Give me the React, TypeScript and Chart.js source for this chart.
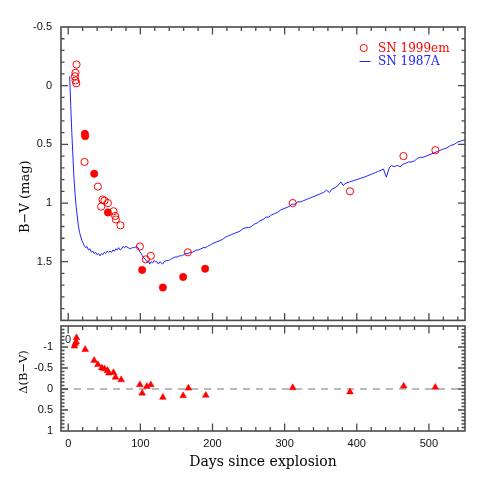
import React, { useEffect, useRef } from 'react';
import { Chart, registerables } from 'chart.js';
Chart.register(...registerables);

// ---------- data ----------
const X_MIN = -10;
const X_MAX = 550;
const xTickLabels = [0, 100, 200, 300, 400, 500];

const topYMin = -0.5;
const topYMax = 2;
const topYTickLabels = [-0.5, 0, 0.5, 1, 1.5];

const botYMin = -1.5;
const botYMax = 1;
const botYTickLabels = [-1, -0.5, 0, 0.5, 1];

// SN 1999em, open circles
const openDays = [11.5, 10.1, 9.3, 10.1, 11.1, 22.6, 41.1, 47.5, 50.3, 45.7, 55, 62.7, 65.1, 66.1, 72.4, 99.3, 107.6, 114.5, 165.8, 311.2, 390.6, 464.7, 509];
const openBV = [-0.18, -0.11, -0.08, -0.045, -0.02, 0.65, 0.86, 0.97, 0.98, 1.03, 1.0, 1.07, 1.11, 1.14, 1.19, 1.37, 1.48, 1.45, 1.42, 1.0, 0.9, 0.6, 0.55];

// SN 1999em, filled circles
const filledDays = [23.1, 23.5, 36, 55, 102.5, 131.2, 159.3, 189.8];
const filledBV = [0.41, 0.43, 0.75, 1.08, 1.57, 1.72, 1.63, 1.56];

// SN 1987A, line
const sn87Days = [
  2, 3.5, 5, 6.5, 8, 9.5, 11, 12.5, 14, 15.7,
  17.5, 19, 20.5, 22, 24, 26, 28, 30, 32, 34,
  36, 38, 40, 42, 44, 46, 48, 50, 52, 54,
  56, 58, 60, 62, 64, 66, 68, 70, 72, 74,
  76, 78, 80, 83, 86, 89, 92, 95, 97, 99,
  101, 103, 105, 107, 109, 111, 113, 115, 117, 119,
  121, 123, 125, 127, 129, 131, 133, 136, 139, 142,
  145, 148, 151, 154, 157, 160, 163, 166, 169, 172,
  175, 178, 181, 184, 187, 190, 193, 196, 199, 202,
  206, 210, 214, 218, 222, 226, 230, 234, 238, 242,
  246, 250, 254, 258, 262, 266, 270, 274, 278, 282,
  286, 290, 294, 298, 302, 306, 310, 314, 318, 322,
  326, 330, 334, 338, 342, 346, 350, 354, 358, 362,
  366, 370, 374, 378, 381, 385, 390, 395, 400, 405,
  410, 414, 418, 422, 426, 430, 434, 437, 441, 445,
  448, 452, 456, 460, 464, 468, 472, 476, 480, 484,
  488, 492, 496, 500, 504, 508, 512, 516, 520, 525,
  530, 535, 540, 545, 550,
];
const sn87BV = [
  -0.08, 0.17, 0.4, 0.6, 0.79, 0.92, 1.03, 1.11, 1.19, 1.25,
  1.29, 1.32, 1.34, 1.36, 1.38, 1.37, 1.4, 1.39, 1.42, 1.41,
  1.43, 1.42, 1.44, 1.43, 1.45, 1.43, 1.44, 1.42, 1.43, 1.41,
  1.42, 1.41, 1.42, 1.4, 1.41, 1.39, 1.4, 1.38, 1.4, 1.39,
  1.37, 1.38, 1.37, 1.38, 1.39, 1.38, 1.38, 1.37, 1.38, 1.41,
  1.43, 1.45, 1.47, 1.48, 1.5, 1.49, 1.52, 1.5, 1.51, 1.49,
  1.5, 1.5, 1.52, 1.5, 1.51, 1.52, 1.5, 1.49, 1.49, 1.48,
  1.47, 1.46, 1.46, 1.45, 1.45, 1.44, 1.43, 1.43, 1.42, 1.42,
  1.41, 1.4, 1.4, 1.39, 1.38, 1.38, 1.37, 1.36, 1.35, 1.34,
  1.33, 1.32, 1.31, 1.29, 1.28, 1.27, 1.26, 1.25, 1.24, 1.22,
  1.21, 1.21, 1.2, 1.18, 1.17, 1.15, 1.14, 1.12, 1.12, 1.1,
  1.09, 1.08, 1.06, 1.05, 1.04, 1.03, 1.01, 1.01, 0.99, 0.99,
  0.98, 0.97, 0.96, 0.95, 0.94, 0.93, 0.92, 0.91, 0.89, 0.91,
  0.88, 0.87, 0.85, 0.82, 0.85, 0.83, 0.82, 0.81, 0.8, 0.79,
  0.78, 0.77, 0.76, 0.75, 0.74, 0.73, 0.72, 0.71, 0.78, 0.7,
  0.68, 0.69, 0.68, 0.69, 0.67, 0.66, 0.65, 0.65, 0.64, 0.62,
  0.61, 0.61, 0.6, 0.59, 0.58, 0.57, 0.56, 0.55, 0.54, 0.53,
  0.51, 0.5, 0.48, 0.47, 0.46,
];

// Delta(B-V), triangles
const deltaDays = [8.7, 9.7, 11.1, 11.5, 23.5, 36, 41.1, 46.6, 50.3, 54.4, 56.3, 62.7, 65.5, 73.4, 99.3, 102.5, 109, 114.5, 131.2, 159.3, 166.6, 190.7, 311.2, 390.6, 465, 508.8];
const deltaBV = [-1.02, -1.08, -1.12, -1.22, -0.94, -0.68, -0.58, -0.5, -0.48, -0.44, -0.38, -0.39, -0.28, -0.22, -0.1, 0.1, -0.06, -0.1, 0.2, 0.16, -0.02, 0.15, -0.03, 0.07, -0.07, -0.04];

const zeroLine = [0, 0];

const legendLabels = ['SN 1999em', 'SN 1987A'];

// ---------- style ----------
const RED = '#ff0000';
const BLUE = '#2222ff';
const FRAME = '#4a4a4a';
const TICK_FONT = { family: 'Liberation Sans, Arial, sans-serif', size: 11 };
const SERIF = '"DejaVu Serif", serif';

const pts = (xs: number[], ys: number[]) => xs.map((x, i) => ({ x, y: ys[i] }));

function frameTicksPlugin(id: string, yMinorStep: number, yMajorEvery: number) {
  return {
    id,
    afterDatasetsDraw(chart: any) {
      const { ctx, chartArea: a, scales } = chart;
      const xs = scales.x;
      const ys = scales.y;
      ctx.save();
      ctx.strokeStyle = FRAME;
      ctx.lineWidth = 1.3;
      ctx.beginPath();
      // x ticks (every 20 days, major every 100)
      for (let v = 0; v <= X_MAX; v += 20) {
        const px = xs.getPixelForValue(v);
        if (px <= a.left + 0.5 || px >= a.right - 0.5) continue;
        const len = v % 100 === 0 ? 7.5 : 4;
        ctx.moveTo(px, a.top);
        ctx.lineTo(px, a.top + len);
        ctx.moveTo(px, a.bottom);
        ctx.lineTo(px, a.bottom - len);
      }
      // y ticks
      const n = Math.round((ys.max - ys.min) / yMinorStep);
      for (let i = 1; i < n; i++) {
        const v = ys.min + i * yMinorStep;
        const py = ys.getPixelForValue(v);
        const len = i % yMajorEvery === 0 ? 7 : 3.5;
        ctx.moveTo(a.left, py);
        ctx.lineTo(a.left + len, py);
        ctx.moveTo(a.right, py);
        ctx.lineTo(a.right - len, py);
      }
      ctx.stroke();
      ctx.lineWidth = 1.6;
      ctx.strokeRect(a.left, a.top, a.right - a.left, a.bottom - a.top);
      ctx.restore();
    },
  };
}

function yTitlePlugin(id: string, text: string, size: number, dx: number, dy: number) {
  return {
    id,
    afterDraw(chart: any) {
      const { ctx, chartArea: a } = chart;
      ctx.save();
      ctx.translate(a.left + dx, (a.top + a.bottom) / 2 + dy);
      ctx.rotate(-Math.PI / 2);
      ctx.font = `${size}px ${SERIF}`;
      ctx.fillStyle = '#000';
      ctx.textAlign = 'center';
      ctx.textBaseline = 'middle';
      ctx.fillText(text, 0, 0);
      ctx.restore();
    },
  };
}

const legendPlugin = {
  id: 'legendBox',
  afterDraw(chart: any) {
    const { ctx, chartArea: a } = chart;
    ctx.save();
    ctx.font = `12px ${SERIF}`;
    ctx.textBaseline = 'middle';
    ctx.textAlign = 'left';
    // row 1
    const y1 = a.top + 21;
    ctx.strokeStyle = RED;
    ctx.lineWidth = 1;
    ctx.beginPath();
    ctx.arc(a.right - 101.3, y1, 3.6, 0, Math.PI * 2);
    ctx.stroke();
    ctx.fillStyle = RED;
    ctx.fillText(legendLabels[0], a.right - 87, y1 + 0.5);
    // row 2
    const y2 = a.top + 34.5;
    ctx.strokeStyle = BLUE;
    ctx.beginPath();
    ctx.moveTo(a.right - 105.5, y2);
    ctx.lineTo(a.right - 94.5, y2);
    ctx.stroke();
    ctx.fillStyle = BLUE;
    ctx.fillText(legendLabels[1], a.right - 87, y2 + 0.5);
    ctx.restore();
  },
};

const strayLabelPlugin = {
  id: 'strayLabel',
  afterDraw(chart: any) {
    const { ctx, chartArea: a } = chart;
    ctx.save();
    ctx.font = '11px Liberation Sans, Arial, sans-serif';
    ctx.fillStyle = '#222';
    ctx.textAlign = 'center';
    ctx.textBaseline = 'middle';
    ctx.fillText('0', a.left + 7, a.top + 14);
    ctx.restore();
  },
};

function topConfig(): any {
  return {
    type: 'scatter',
    data: {
      datasets: [
        {
          label: 'open',
          data: pts(openDays, openBV),
          pointStyle: 'circle',
          pointRadius: 3.6,
          borderWidth: 1,
          borderColor: RED,
          backgroundColor: 'rgba(255,255,255,0)',
        },
        {
          label: 'filled',
          data: pts(filledDays, filledBV),
          pointStyle: 'circle',
          pointRadius: 3.7,
          borderWidth: 0.5,
          borderColor: RED,
          backgroundColor: RED,
        },
        {
          label: 'SN 1987A',
          data: pts(sn87Days, sn87BV),
          showLine: true,
          pointRadius: 0,
          borderColor: BLUE,
          borderWidth: 1,
          tension: 0,
          fill: false,
        },
      ],
    },
    options: {
      animation: false,
      responsive: false,
      layout: { padding: { left: 0, right: 26, top: 27, bottom: 10 } },
      plugins: { legend: { display: false }, tooltip: { enabled: false } },
      scales: {
        x: { type: 'linear', min: X_MIN, max: X_MAX, display: false },
        y: {
          type: 'linear',
          min: topYMin,
          max: topYMax,
          reverse: true,
          afterFit: (s: any) => { s.width = 61; },
          afterBuildTicks: (s: any) => { s.ticks = topYTickLabels.map((v) => ({ value: v })); },
          grid: { display: false, drawTicks: false },
          border: { display: false },
          ticks: { padding: 9, color: '#111', font: TICK_FONT, callback: (v: any) => String(v) },
        },
      },
    },
    plugins: [
      frameTicksPlugin('frameTop', 0.1, 5),
      yTitlePlugin('titleTop', 'B\u2212V (mag)', 13, -35, 23),
      legendPlugin,
    ],
  };
}

function botConfig(): any {
  return {
    type: 'scatter',
    data: {
      datasets: [
        {
          label: 'delta',
          data: pts(deltaDays, deltaBV),
          pointStyle: 'triangle',
          pointRadius: 3.9,
          borderWidth: 0.5,
          borderColor: RED,
          backgroundColor: RED,
        },
        {
          label: 'zero',
          data: pts([X_MIN, X_MAX], zeroLine),
          showLine: true,
          pointRadius: 0,
          borderColor: '#777',
          borderWidth: 1,
          borderDash: [7, 6],
          fill: false,
        },
      ],
    },
    options: {
      animation: false,
      responsive: false,
      layout: { padding: { left: 0, right: 26, top: 16, bottom: 0 } },
      plugins: { legend: { display: false }, tooltip: { enabled: false } },
      scales: {
        x: {
          type: 'linear',
          min: X_MIN,
          max: X_MAX,
          afterFit: (s: any) => { s.height = 60; },
          afterBuildTicks: (s: any) => { s.ticks = xTickLabels.map((v) => ({ value: v })); },
          grid: { display: false, drawTicks: false },
          border: { display: false },
          ticks: { padding: 6, color: '#111', font: TICK_FONT, maxRotation: 0, callback: (v: any) => String(v) },
          title: {
            display: true,
            text: 'Days since explosion',
            color: '#000',
            font: { family: SERIF, size: 14 },
            padding: { top: 0, bottom: 20.5 },
          },
        },
        y: {
          type: 'linear',
          min: botYMin,
          max: botYMax,
          reverse: true,
          afterFit: (s: any) => { s.width = 61; },
          afterBuildTicks: (s: any) => { s.ticks = botYTickLabels.map((v) => ({ value: v })); },
          grid: { display: false, drawTicks: false },
          border: { display: false },
          ticks: { padding: 8, color: '#111', font: TICK_FONT, callback: (v: any) => String(v) },
        },
      },
    },
    plugins: [
      frameTicksPlugin('frameBot', 0.5 / 6, 6),
      yTitlePlugin('titleBot', '\u0394(B\u2212V)', 11.5, -36.5, -6.5),
      strayLabelPlugin,
    ],
  };
}

export default function App() {
  const topRef = useRef<HTMLCanvasElement>(null);
  const botRef = useRef<HTMLCanvasElement>(null);
  useEffect(() => {
    const top = new Chart(topRef.current as HTMLCanvasElement, topConfig());
    const bot = new Chart(botRef.current as HTMLCanvasElement, botConfig());
    return () => {
      top.destroy();
      bot.destroy();
    };
  }, []);
  return (
    <div style={{ position: 'fixed', left: 0, top: 0, width: 491, height: 491, background: '#fff' }}>
      <canvas
        ref={topRef}
        width={491}
        height={336}
        style={{ position: 'absolute', left: 0, top: 0, width: 491, height: 336 }}
      />
      <canvas
        ref={botRef}
        width={491}
        height={181}
        style={{ position: 'absolute', left: 0, top: 310, width: 491, height: 181 }}
      />
    </div>
  );
}
